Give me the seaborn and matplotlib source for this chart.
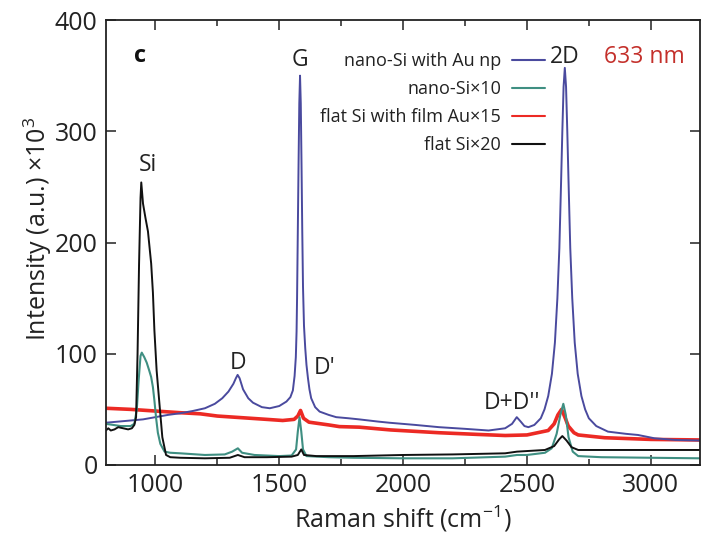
import matplotlib
matplotlib.use("Agg")
import matplotlib.pyplot as plt
from matplotlib.ticker import MultipleLocator
import seaborn as sns
import pandas as pd

# Raman spectra, 633 nm excitation (intensity in units of 10^3 counts)
nano_au_shift = [800, 850, 900, 950, 1000, 1050, 1100, 1150, 1200, 1240, 1270, 1295,
                 1315, 1325, 1332, 1340, 1354, 1375, 1394, 1430, 1462, 1500, 1529,
                 1545, 1555, 1562, 1567, 1570, 1572, 1575, 1578, 1581, 1584, 1587,
                 1590, 1593, 1596, 1600, 1605, 1610, 1616, 1622, 1629, 1645, 1663,
                 1700, 1730, 1780, 1823, 1900, 1944, 2050, 2145, 2250, 2345, 2412,
                 2440, 2459, 2475, 2490, 2506, 2530, 2556, 2571, 2586, 2601, 2613,
                 2623, 2631, 2638, 2643, 2648, 2653, 2658, 2663, 2668, 2675, 2683,
                 2693, 2705, 2720, 2735, 2750, 2780, 2827, 2900, 2948, 3015, 3100, 3200]
nano_au_int = [38, 39, 40, 41, 43, 45, 46.5, 48.5, 51, 55, 60, 66,
               73, 78, 81, 78, 68, 60, 56, 52, 51, 53, 57,
               61, 67, 80, 97, 120, 150, 210, 270, 325, 350, 325,
               270, 210, 160, 125, 105, 90, 78, 68, 60, 52, 48,
               45, 43, 42, 41, 39, 38, 36, 34, 32.5, 31, 33,
               37, 43, 39, 35, 34, 36, 42, 50, 62, 82, 110,
               150, 195, 255, 300, 340, 357, 340, 300, 255, 195, 150,
               110, 82, 62, 50, 42, 35, 30, 28, 27, 24, 22.5, 22]

nano_shift = [800, 830, 860, 900, 915, 925, 932, 940, 945, 955, 965, 975, 983, 990,
              996, 1003, 1010, 1020, 1037, 1060, 1100, 1200, 1280, 1310, 1333, 1350,
              1400, 1500, 1550, 1568, 1575, 1582, 1589, 1596, 1610, 1700, 1800, 2000,
              2200, 2412, 2460, 2500, 2573, 2600, 2620, 2635, 2647, 2657, 2668, 2685,
              2707, 2800, 3000, 3200]
nano_int = [37, 36, 35, 35, 37, 50, 75, 98, 101, 97, 92, 85, 79, 70,
            58, 42, 29, 19, 12, 11, 10.5, 9, 9.5, 12, 15, 11,
            9, 8, 8.5, 14, 30, 43, 30, 14, 8, 7, 6.5, 6,
            6, 7.5, 9, 9, 11, 15, 28, 45, 55, 45, 25, 12,
            8, 7, 6.5, 6]

film_shift = [800, 900, 1000, 1100, 1181, 1250, 1350, 1450, 1514, 1560, 1575, 1586,
              1598, 1620, 1700, 1743, 1823, 1950, 2145, 2300, 2412, 2500, 2586, 2610,
              2625, 2640, 2655, 2667, 2690, 2707, 2814, 3000, 3200]
film_int = [51, 50, 48.5, 47, 46, 44, 42.5, 41, 40, 41, 44, 49,
            42, 38.5, 36, 34.5, 34, 31.5, 29, 27.5, 26.5, 27, 31, 37,
            45, 50, 42, 35, 29, 27, 24.5, 23, 22.5]

flat_shift = [800, 810, 820, 835, 850, 870, 890, 905, 915, 922, 928, 934, 940, 943,
              950, 960, 970, 983, 990, 996, 1005, 1016, 1028, 1043, 1060, 1100, 1200,
              1300, 1333, 1360, 1450, 1550, 1575, 1589, 1600, 1650, 1800, 2000, 2200,
              2412, 2460, 2573, 2610, 2630, 2643, 2660, 2680, 2707, 2900, 3200]
flat_int = [31, 33, 31, 32, 34, 33, 32, 33, 36, 43, 100, 180, 240, 254,
            235, 222, 210, 181, 155, 121, 85, 56, 25, 9, 7, 6.5, 6,
            6.5, 9, 7, 7, 7.5, 9, 14, 9, 8, 8, 9, 9.5,
            10.5, 12, 13.5, 17, 23, 26, 22, 16, 13.5, 13.5, 13.5]

series_labels = ["nano-Si with Au np", "nano-Si\u00d710",
                 "flat Si with film Au\u00d715", "flat Si\u00d720"]
series_colors = ["#4a4a9e", "#3f8f82", "#ec2a24", "#111111"]

peak_labels = ["Si", "G", "D", "D'", "D+D''", "2D"]
peak_pos = [968, 1582, 1333, 1683, 2440, 2653]
peak_height = [270, 364, 92, 87, 56, 367]

frames = []
for lab, xs, ys in zip(series_labels,
                       [nano_au_shift, nano_shift, film_shift, flat_shift],
                       [nano_au_int, nano_int, film_int, flat_int]):
    frames.append(pd.DataFrame({"shift": xs, "intensity": ys, "sample": lab}))
spectra = pd.concat(frames, ignore_index=True)

sns.set_theme(style="ticks")
plt.rcParams["font.family"] = ["Open Sans", "DejaVu Sans"]
plt.rcParams["mathtext.fontset"] = "custom"
plt.rcParams["mathtext.rm"] = "Open Sans"

fig = plt.figure(figsize=(7.01, 5.41), dpi=100)
ax = fig.add_axes([0.151, 0.1405, 0.848, 0.8225])

palette = dict(zip(series_labels, series_colors))
widths = {series_labels[0]: 1.4, series_labels[1]: 1.5,
          series_labels[2]: 2.6, series_labels[3]: 1.4}
draw_order = [series_labels[2], series_labels[0], series_labels[1], series_labels[3]]
handles = {}
for lab in draw_order:
    sub = spectra[spectra["sample"] == lab]
    sns.lineplot(data=sub, x="shift", y="intensity", ax=ax, color=palette[lab],
                 linewidth=widths[lab], label=lab, legend=False, estimator=None,
                 sort=False)
    handles[lab] = ax.lines[-1]

ax.set_xlim(800, 3200)
ax.set_ylim(0, 400)
ax.xaxis.set_major_locator(MultipleLocator(500))
ax.xaxis.set_minor_locator(MultipleLocator(250))
ax.yaxis.set_major_locator(MultipleLocator(100))
ax.tick_params(which="both", direction="in", top=True, right=True,
               width=1.1, labelsize=18, colors="#222222", pad=6)
ax.tick_params(which="major", length=7)
ax.tick_params(which="minor", length=4)
for sp in ax.spines.values():
    sp.set_linewidth(1.3)
    sp.set_color("#222222")

ax.set_xlabel("Raman shift (cm$^{-1}$)", fontsize=18, color="#222222", labelpad=4)
ax.set_ylabel("Intensity (a.u.) \u00d710$^{3}$", fontsize=18, color="#222222")
ax.yaxis.set_label_coords(-0.088, 0.53)

for txt, xp, yp in zip(peak_labels, peak_pos, peak_height):
    ax.text(xp, yp, txt, fontsize=16.5, ha="center", va="center", color="#222222")
ax.text(940, 368, "c", fontsize=17, fontweight="bold", ha="center", va="center",
        color="#111111")
ax.text(2975, 367, "633 nm", fontsize=16.5, ha="center", va="center", color="#c4302b")

leg = ax.legend([handles[l] for l in series_labels], series_labels,
                loc="upper right", bbox_to_anchor=(0.738, 0.928), frameon=False,
                markerfirst=False, fontsize=13, handlelength=1.8,
                handletextpad=0.6, labelspacing=0.55, borderpad=0,
                borderaxespad=0)
for t in leg.get_texts():
    t.set_ha("right")
    t.set_color("#222222")
for h in leg.legend_handles:
    h.set_linewidth(1.5)

fig.savefig("out.png", dpi=100)
